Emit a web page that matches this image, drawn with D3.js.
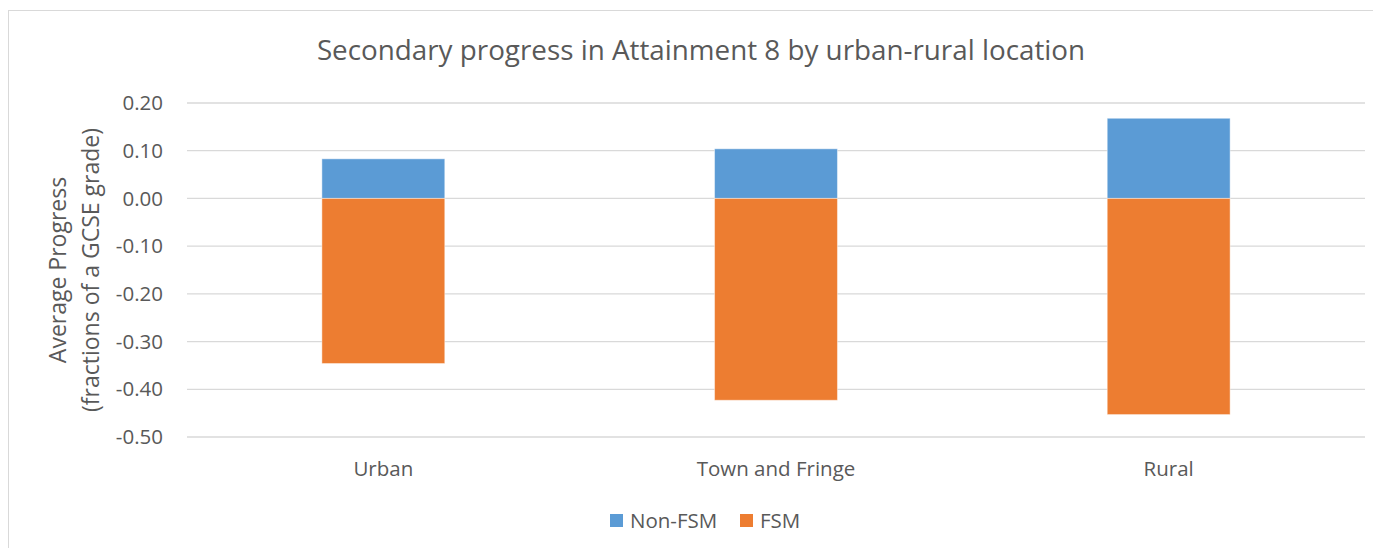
<!DOCTYPE html>
<html>
<head>
<meta charset="utf-8">
<script src="https://cdn.jsdelivr.net/npm/d3@7"></script>
<style>
  body { margin: 0; background: #fff; }
  text { font-family: "Open Sans", "Liberation Sans", sans-serif; fill: #595959; }
</style>
</head>
<body>
<svg id="chart" width="1373" height="548"></svg>
<script>
// chart values
const locations = ['Urban', 'Town and Fringe', 'Rural']
const nonFsm = [0.083, 0.104, 0.168]
const fsm = [-0.346, -0.423, -0.453]
const seriesNames = ['Non-FSM', 'FSM']
const yTicks = [0.2, 0.1, 0, -0.1, -0.2, -0.3, -0.4, -0.5]

const colors = { 'Non-FSM': '#5B9BD5', 'FSM': '#ED7D31' }

const margin = { top: 103, left: 187, right: 8, bottom: 111 }
const W = 1373, H = 548
const innerW = W - margin.left - margin.right
const innerH = H - margin.top - margin.bottom

const svg = d3.select('#chart')

// chart area border (runs off the right and bottom edges)
svg.append('rect')
  .attr('x', 8.5).attr('y', 10.5)
  .attr('width', 1400).attr('height', 600)
  .attr('fill', '#fff')
  .attr('stroke', '#D9D9D9')

const data = locations.map((loc, i) => ({ loc: loc, 'Non-FSM': nonFsm[i], 'FSM': fsm[i] }))

const x = d3.scaleBand().domain(locations).range([0, innerW]).paddingInner(0.687).paddingOuter(0.3435)
const y = d3.scaleLinear().domain([-0.5, 0.2]).range([innerH, 0])

const fmt = d => d3.format('.2f')(d).replace('\u2212', '-')

const g = svg.append('g').attr('id', 'graph-g')
  .attr('transform', `translate(${margin.left},${margin.top})`)

// gridlines
g.append('g')
  .selectAll('line')
  .data(yTicks).join('line')
  .attr('x1', 0).attr('x2', innerW)
  .attr('y1', d => y(d)).attr('y2', d => y(d))
  .attr('stroke', '#D9D9D9').attr('stroke-width', 1.3)

// y tick labels
g.append('g')
  .selectAll('text')
  .data(yTicks).join('text')
  .attr('x', -24).attr('y', d => y(d))
  .attr('dy', '0.35em')
  .attr('text-anchor', 'end')
  .style('font-size', '20.5px')
  .text(fmt)

// bars
const stacked = d3.stack().keys(seriesNames).offset(d3.stackOffsetDiverging)(data)

g.selectAll('.series')
  .data(stacked).join('g')
  .attr('class', 'series')
  .attr('fill', d => colors[d.key])
  .selectAll('rect')
  .data(d => d).join('rect')
  .attr('x', d => x(d.data.loc))
  .attr('width', x.bandwidth())
  .attr('y', d => y(Math.max(d[0], d[1])))
  .attr('height', d => Math.abs(y(d[0]) - y(d[1])))
  .attr('stroke', '#fff').attr('stroke-opacity', 0.45).attr('stroke-width', 1)

// x labels
g.append('g')
  .selectAll('text')
  .data(locations).join('text')
  .attr('x', d => x(d) + x.bandwidth() / 2)
  .attr('y', innerH + 39)
  .attr('text-anchor', 'middle')
  .style('font-size', '20.5px')
  .text(d => d)

// title
svg.append('text')
  .attr('x', 701).attr('y', 60)
  .attr('text-anchor', 'middle')
  .style('font-size', '27.8px')
  .text('Secondary progress in Attainment 8 by urban-rural location')

// y axis title
const yTitle = svg.append('text')
  .attr('transform', `translate(75,${margin.top + innerH / 2}) rotate(-90)`)
  .attr('text-anchor', 'middle')
  .style('font-size', '23px')
yTitle.append('tspan').attr('x', 0).attr('dy', '-0.4em').text('Average Progress')
yTitle.append('tspan').attr('x', 0).attr('dy', '1.45em').text('(fractions of a GCSE grade)')

// legend
const legend = svg.append('g').attr('transform', 'translate(610,521)')
const items = [{ name: 'Non-FSM', x: 0 }, { name: 'FSM', x: 130 }]
const li = legend.selectAll('g').data(items).join('g')
  .attr('transform', d => `translate(${d.x},0)`)
li.append('rect')
  .attr('x', 0).attr('y', -7).attr('width', 13).attr('height', 13)
  .attr('fill', d => colors[d.name])
li.append('text')
  .attr('x', 20).attr('y', 0).attr('dy', '0.35em')
  .style('font-size', '20.5px')
  .text(d => d.name)
</script>
</body>
</html>
